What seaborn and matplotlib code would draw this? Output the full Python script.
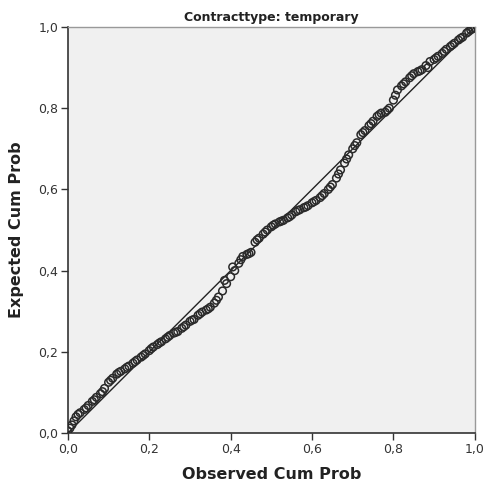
import matplotlib
matplotlib.use("Agg")
import matplotlib.pyplot as plt
import seaborn as sns
import pandas as pd
from matplotlib.ticker import FuncFormatter

observed = [0.00, 0.01, 0.02, 0.03, 0.04, 0.05, 0.06, 0.07, 0.08, 0.09,
            0.10, 0.11, 0.12, 0.13, 0.14, 0.15, 0.16, 0.17, 0.18, 0.19,
            0.20, 0.21, 0.22, 0.23, 0.24, 0.25, 0.26, 0.27, 0.28, 0.29,
            0.30, 0.31, 0.32, 0.33, 0.34, 0.35, 0.36, 0.37, 0.38, 0.39,
            0.40, 0.41, 0.42, 0.43, 0.44, 0.45, 0.46, 0.47, 0.48, 0.49,
            0.50, 0.51, 0.52, 0.53, 0.54, 0.55, 0.56, 0.57, 0.58, 0.59,
            0.60, 0.61, 0.62, 0.63, 0.64, 0.65, 0.66, 0.67, 0.68, 0.69,
            0.70, 0.71, 0.72, 0.73, 0.74, 0.75, 0.76, 0.77, 0.78, 0.79,
            0.80, 0.81, 0.82, 0.83, 0.84, 0.85, 0.86, 0.87, 0.88, 0.89,
            0.90, 0.91, 0.92, 0.93, 0.94, 0.95, 0.96, 0.97, 0.98, 0.99, 1.00,
            0.005, 0.015, 0.025, 0.045, 0.065, 0.085, 0.105, 0.125, 0.145, 0.165,
            0.185, 0.205, 0.225, 0.245, 0.265, 0.285, 0.305, 0.325, 0.345, 0.365,
            0.385, 0.405, 0.425, 0.445, 0.465, 0.485, 0.505, 0.525, 0.545, 0.565,
            0.585, 0.605, 0.625, 0.645, 0.665, 0.685, 0.705, 0.725, 0.745, 0.765,
            0.785, 0.805, 0.825, 0.845, 0.865, 0.885, 0.905, 0.925, 0.945, 0.965,
            0.985, 0.995]
expected = [0.005, 0.020, 0.040, 0.050, 0.058, 0.068, 0.078, 0.088, 0.097, 0.110,
            0.125, 0.135, 0.145, 0.152, 0.158, 0.165, 0.172, 0.180, 0.187, 0.195,
            0.203, 0.212, 0.218, 0.225, 0.232, 0.240, 0.246, 0.250, 0.258, 0.266,
            0.275, 0.280, 0.290, 0.298, 0.303, 0.310, 0.320, 0.335, 0.350, 0.368,
            0.385, 0.400, 0.418, 0.435, 0.440, 0.445, 0.470, 0.480, 0.490, 0.500,
            0.508, 0.515, 0.520, 0.524, 0.530, 0.537, 0.545, 0.550, 0.555, 0.560,
            0.567, 0.573, 0.580, 0.590, 0.600, 0.612, 0.628, 0.648, 0.665, 0.685,
            0.700, 0.715, 0.735, 0.745, 0.757, 0.768, 0.780, 0.788, 0.790, 0.800,
            0.820, 0.845, 0.855, 0.865, 0.875, 0.885, 0.890, 0.895, 0.905, 0.915,
            0.920, 0.928, 0.935, 0.945, 0.952, 0.960, 0.968, 0.975, 0.985, 0.993, 0.998,
            0.012, 0.030, 0.046, 0.062, 0.082, 0.102, 0.130, 0.149, 0.162, 0.176,
            0.191, 0.208, 0.222, 0.236, 0.248, 0.262, 0.278, 0.294, 0.306, 0.327,
            0.376, 0.409, 0.427, 0.442, 0.476, 0.495, 0.512, 0.522, 0.533, 0.548,
            0.557, 0.570, 0.585, 0.606, 0.638, 0.675, 0.708, 0.740, 0.762, 0.784,
            0.795, 0.832, 0.860, 0.880, 0.892, 0.900, 0.924, 0.940, 0.956, 0.972,
            0.989, 0.996]
ref_x = [0.0, 1.0]
ref_y = [0.0, 1.0]
ticks = [0.0, 0.2, 0.4, 0.6, 0.8, 1.0]

df = pd.DataFrame({"Observed": observed, "Expected": expected})
ref = pd.DataFrame({"x": ref_x, "y": ref_y})

sns.set_style("white")
plt.rcParams["font.family"] = ["DejaVu Sans"]

fig = plt.figure(figsize=(4.92, 4.91), dpi=100)
ax = fig.add_axes([0.138, 0.118, 0.827, 0.827])
ax.set_facecolor("#f0f0f0")

sns.lineplot(data=ref, x="x", y="y", ax=ax, color="#222222", linewidth=1.0, zorder=2)
sns.scatterplot(data=df, x="Observed", y="Expected", ax=ax, s=30,
                facecolor="none", edgecolor="#2a2a2a", linewidth=1.1, zorder=3)

ax.set_xlim(0, 1)
ax.set_ylim(0, 1)
ax.set_xticks(ticks)
ax.set_yticks(ticks)
fmt = FuncFormatter(lambda v, p: f"{v:.1f}".replace(".", ","))
ax.xaxis.set_major_formatter(fmt)
ax.yaxis.set_major_formatter(fmt)
ax.tick_params(axis="both", direction="out", length=5, width=1, color="#333333",
               labelsize=9, labelcolor="#333333", pad=2)
ax.tick_params(bottom=True, left=True)

for side in ["left", "bottom"]:
    ax.spines[side].set_color("#333333")
    ax.spines[side].set_linewidth(1.2)
for side in ["top", "right"]:
    ax.spines[side].set_color("#999999")
    ax.spines[side].set_linewidth(1.0)

ax.set_xlabel("Observed Cum Prob", fontsize=11.5, fontweight="bold", color="#222222", labelpad=8)
ax.set_ylabel("Expected Cum Prob", fontsize=11.5, fontweight="bold", color="#222222", labelpad=10)
ax.set_title("Contracttype: temporary", fontsize=9, fontweight="bold", color="#222222", pad=4)

fig.savefig("out.png", dpi=100, facecolor="white")
